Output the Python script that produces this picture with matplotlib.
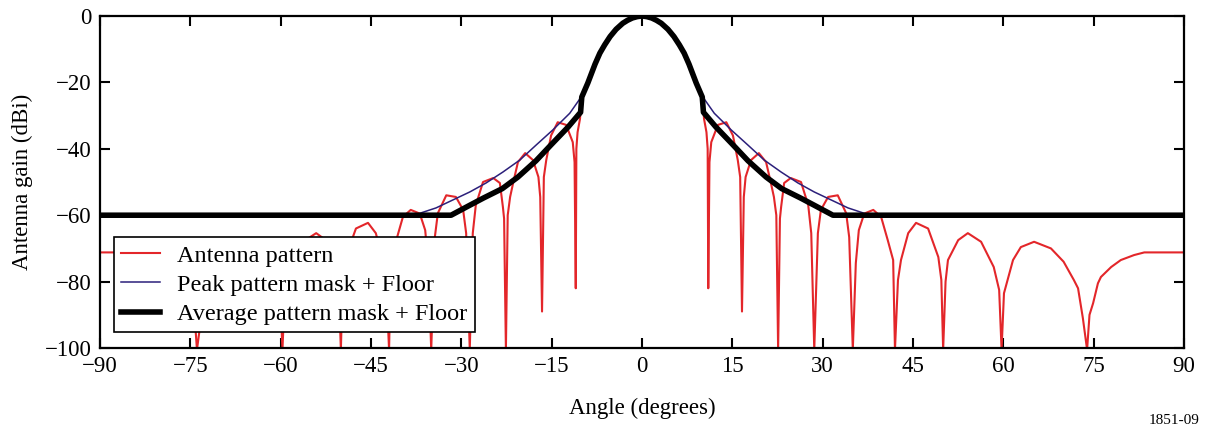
import numpy as np
import matplotlib
matplotlib.use("Agg")
import matplotlib.pyplot as plt

plt.rcParams['font.family'] = ['Liberation Serif', 'DejaVu Serif']

# main lobe, shared by the pattern and both masks (0 deg to 10 deg)
main_ang = [0.0, 0.8, 1.6, 2.4, 3.2, 4.3, 5.3, 6.2, 7.0, 7.8, 8.6, 9.0, 9.5, 10.0]
main_gain = [0.0, -0.2, -0.6, -1.3, -2.2, -4.0, -6.2, -8.7, -11.2, -14.5, -18.3, -20.2, -22.3, -24.4]

# antenna pattern sidelobes, right half (pattern is symmetric about 0 deg)
lobe_ang = [10.3, 10.7, 10.9, 11.0, 11.2, 11.5, 12.6, 14.0, 15.1, 15.9, 16.3, 16.6,
            16.9, 17.2, 18.1, 19.4, 20.6, 21.4, 21.9, 22.3, 22.6, 22.9, 23.1, 23.6,
            24.7, 26.4, 27.6, 28.1, 28.6, 29.2, 29.7, 30.9, 32.5, 33.9, 34.4, 35.0,
            35.5, 36.0, 36.9, 38.4, 39.7, 40.8, 41.7, 42.0, 42.5, 43.0, 44.2, 45.5,
            47.5, 49.2, 49.7, 50.0, 50.4, 50.8, 52.5, 54.1, 56.3, 58.4, 59.3, 59.7,
            60.1, 60.7, 61.6, 62.9, 65.1, 67.9, 70.0, 71.7, 72.4, 73.2, 73.9, 74.3,
            74.9, 75.7, 76.2, 77.9, 79.5, 81.7, 83.4, 90.0]
lobe_gain = [-31.0, -35.0, -40.0, -82.0, -44.0, -38.0, -32.8, -32.0, -36.0, -43.4, -48.5, -89.0,
             -54.5, -48.5, -43.4, -41.3, -44.0, -50.3, -54.5, -60.0, -100.5, -61.0, -57.5, -50.3,
             -48.8, -50.0, -57.0, -65.4, -100.5, -65.4, -58.4, -54.5, -54.0, -59.4, -66.6, -100.5,
             -74.4, -64.5, -59.5, -58.4, -60.5, -67.5, -73.5, -100.5, -79.5, -73.5, -65.4, -62.3,
             -64.0, -72.6, -79.5, -100.5, -80.0, -73.5, -67.5, -65.4, -68.0, -75.6, -82.5, -100.5,
             -83.5, -79.5, -73.5, -69.6, -68.0, -70.0, -74.0, -79.5, -82.0, -91.0, -100.5, -90.0,
             -86.5, -80.5, -78.6, -75.6, -73.5, -72.0, -71.2, -71.2]

# peak pattern mask + floor, right half
peak_ang = [10.1, 12.0, 14.8, 17.6, 20.3, 23.1, 25.9, 28.6, 31.4, 34.2, 36.7, 37.5, 90.0]
peak_gain = [-24.4, -29.3, -34.3, -38.9, -43.4, -47.0, -50.3, -53.0, -55.4, -57.8, -59.3, -60.0, -60.0]

# average pattern mask + floor, right half
avg_ang = [10.2, 12.3, 15.1, 17.6, 20.6, 23.2, 26.3, 28.6, 31.7, 90.0]
avg_gain = [-29.0, -33.5, -38.8, -43.6, -48.5, -52.0, -54.8, -57.0, -60.0, -60.0]

xticks = [-90, -75, -60, -45, -30, -15, 0, 15, 30, 45, 60, 75, 90]
yticks = [0, -20, -40, -60, -80, -100]


def both_sides(ang, gain):
    a = np.array(ang)
    g = np.array(gain)
    return np.concatenate([-a[::-1], a[1:]]), np.concatenate([g[::-1], g[1:]])


pat_x, pat_y = both_sides(main_ang + lobe_ang, main_gain + lobe_gain)
pk_x, pk_y = both_sides(main_ang + peak_ang, main_gain + peak_gain)
av_x, av_y = both_sides(main_ang + avg_ang, main_gain + avg_gain)

fig = plt.figure(figsize=(12.06, 4.26), dpi=100)
ax = fig.add_axes([0.0829, 0.183, 0.8989, 0.7795])

ax.plot(pat_x, pat_y, color='#e3262a', lw=1.5, label='Antenna pattern', zorder=2)
ax.plot(pk_x, pk_y, color='#2b1f7a', lw=1.1, label='Peak pattern mask + Floor', zorder=3)
ax.plot(av_x, av_y, color='black', lw=4.0, label='Average pattern mask + Floor', zorder=4)

ax.set_xlim(-90, 90)
ax.set_ylim(-100, 0)
ax.set_xticks(xticks)
ax.set_yticks(yticks)
ax.tick_params(direction='in', length=7, width=1.5, top=True, right=True,
               labelsize=16.5, pad=6)
for s in ax.spines.values():
    s.set_linewidth(1.6)

ax.set_xlabel('Angle (degrees)', fontsize=16.5)
ax.set_ylabel('Antenna gain (dBi)', fontsize=16.5)
ax.xaxis.set_label_coords(0.5, -0.15)
ax.yaxis.set_label_coords(-0.062, 0.5)

leg = ax.legend(loc='lower left', bbox_to_anchor=(0.013, 0.047), borderaxespad=0,
                fontsize=17.5, fancybox=False, framealpha=1, edgecolor='black',
                handlelength=1.6, labelspacing=0.3, borderpad=0.3, handletextpad=0.7)
leg.get_frame().set_linewidth(1.2)

fig.text(0.995, 1 - 414 / 426, '1851-09', ha='right', va='top', fontsize=11)

fig.savefig('out.png', dpi=100)
